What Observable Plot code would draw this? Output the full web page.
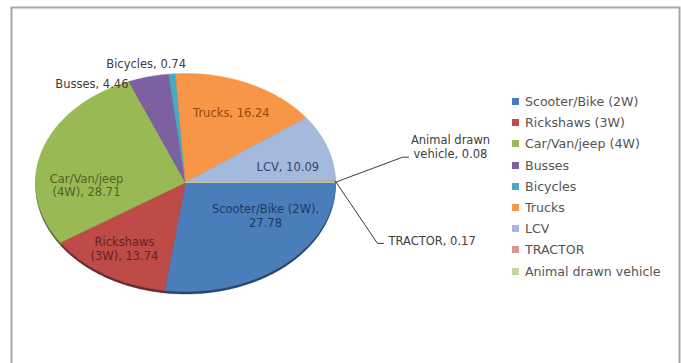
<!DOCTYPE html>
<html><head><meta charset="utf-8">
<script src="https://cdn.jsdelivr.net/npm/d3@7"></script>
<script src="https://cdn.jsdelivr.net/npm/@observablehq/plot@0.6"></script>
<style>
body{margin:0;background:#fff}
#wrap{position:relative;width:681px;height:363px;overflow:hidden;background:#fff}
#legend{position:absolute;left:512px;top:91px}
.lg-swatch{height:21.2px;padding-bottom:0 !important}
.lg-swatch > svg{margin-right:6px !important}
</style></head><body><div id="wrap"></div>
<script>
// ---- data ----
const categories = ["Scooter/Bike (2W)", "Rickshaws (3W)", "Car/Van/jeep (4W)", "Busses", "Bicycles", "Trucks", "LCV", "TRACTOR", "Animal drawn vehicle"];
const values = [27.78, 13.74, 28.71, 4.46, 0.74, 16.24, 10.09, 0.17, 0.08];
const sliceColors = ["#4A7EBB", "#BE4B48", "#98B954", "#7D60A0", "#46AAC5", "#F79646", "#A5B9DC", "#D99795", "#C3D69B"];

// ---- label layout (placement/style only) ----
const RX = 150, RY = 109;
const labelLayout = {
  "Scooter/Bike (2W)":    {r: 0.6, dx: 21,  dy: -16, anchor: "middle", color: "#1F3A60", firstLine: 2},
  "Rickshaws (3W)":       {r: 0.6, dx: -13, dy: 11,  anchor: "middle", color: "#632523", firstLine: 1},
  "Car/Van/jeep (4W)":    {r: 0.6, dx: -13, dy: 22,  anchor: "middle", color: "#4F6228", firstLine: 1},
  "Busses":               {r: 1.0, dx: -20, dy: 7,   anchor: "end",    color: "#404040"},
  "Bicycles":             {r: 1.0, dx: -26, dy: -10, anchor: "middle", color: "#404040"},
  "Trucks":               {r: 0.6, dx: 8,   dy: -11, anchor: "middle", color: "#984807"},
  "LCV":                  {r: 0.6, dx: 17,  dy: 5,   anchor: "middle", color: "#34476A"},
  "TRACTOR":              {r: 1.0, dx: 53,  dy: 59,  anchor: "start",  color: "#404040", leader: [[42, 62], [48, 62]]},
  "Animal drawn vehicle": {r: 1.0, dx: 115, dy: -36, anchor: "middle", color: "#404040", firstLine: 2, leader: [[67, -25], [73, -25]]}
};

// ---- geometry ----
const total = d3.sum(values);
let acc = 0;
const slices = categories.map((name, i) => {
  const a0 = acc / total * 2 * Math.PI;
  acc += values[i];
  const a1 = acc / total * 2 * Math.PI;
  return {name, value: values[i], a0, a1, mid: (a0 + a1) / 2};
});
const pts = slices.flatMap(s => {
  const n = Math.max(2, Math.ceil((s.a1 - s.a0) / (Math.PI / 180)));
  const arr = [{name: s.name, x: 0, y: 0}];
  for (let k = 0; k <= n; k++) {
    const a = s.a0 + (s.a1 - s.a0) * k / n;
    arr.push({name: s.name, x: Math.cos(a), y: Math.sin(a)});
  }
  arr.push({name: s.name, x: 0, y: 0});
  return arr;
});
const ellipse = d3.range(0, 361, 1).map(d => ({x: Math.cos(d * Math.PI / 180), y: Math.sin(d * Math.PI / 180)}));

const fmt = d3.format(".2f");
function labelText(s) {
  const L = labelLayout[s.name];
  const words = `${s.name}, ${fmt(s.value)}`.split(" ");
  if (!L.firstLine) return words.join(" ");
  return words.slice(0, L.firstLine).join(" ") + "\n" + words.slice(L.firstLine).join(" ");
}
function pos(s, dx, dy, r) {
  return {x: r * Math.cos(s.mid) + dx / RX, y: r * Math.sin(s.mid) + dy / RY};
}

const font = "DejaVu Sans, Verdana, sans-serif";
const labelMarks = slices.flatMap(s => {
  const L = labelLayout[s.name];
  const p = pos(s, L.dx, L.dy, L.r);
  const marks = [Plot.text([{...p, t: labelText(s)}], {
    x: "x", y: "y", text: "t", fill: L.color, textAnchor: L.anchor,
    fontSize: 11.5, lineHeight: 1.2, fontFamily: font
  })];
  if (L.leader) {
    const line = [pos(s, 0, 0, 1), ...L.leader.map(([dx, dy]) => pos(s, dx, dy, 1))];
    marks.unshift(Plot.line(line, {x: "x", y: "y", stroke: "#3a3a3a", strokeWidth: 1}));
  }
  return marks;
});

const color = {domain: categories, range: sliceColors};

const chart = Plot.plot({
  width: 681, height: 363, margin: 0,
  x: {domain: [-1, 1], range: [185 - RX, 185 + RX], axis: null},
  y: {domain: [-1, 1], range: [182 - RY, 182 + RY], axis: null},
  color,
  style: {background: "#fff", overflow: "hidden"},
  marks: [
    Plot.frame({stroke: "#a8a8a8", strokeWidth: 2, insetLeft: 11, insetTop: 7, insetRight: 2, insetBottom: -10}),
    Plot.line(pts, {x: "x", y: "y", z: "name", fill: "name", stroke: "name", strokeWidth: 0.5, dy: 2.5}),
    Plot.line(ellipse, {x: "x", y: "y", fill: "#0b1626", fillOpacity: 0.55, dy: 2.5}),
    Plot.line(pts, {x: "x", y: "y", z: "name", fill: "name", stroke: "name", strokeWidth: 0.5}),
    ...labelMarks
  ]
});

const legend = Plot.legend({
  color, legend: "swatches", columns: 1, swatchSize: 7, className: "lg",
  style: {fontFamily: font, fontSize: "12.6px", color: "#555"}
});
legend.id = "legend";

const wrap = document.getElementById("wrap");
wrap.appendChild(chart);
wrap.appendChild(legend);
</script>
</body></html>
